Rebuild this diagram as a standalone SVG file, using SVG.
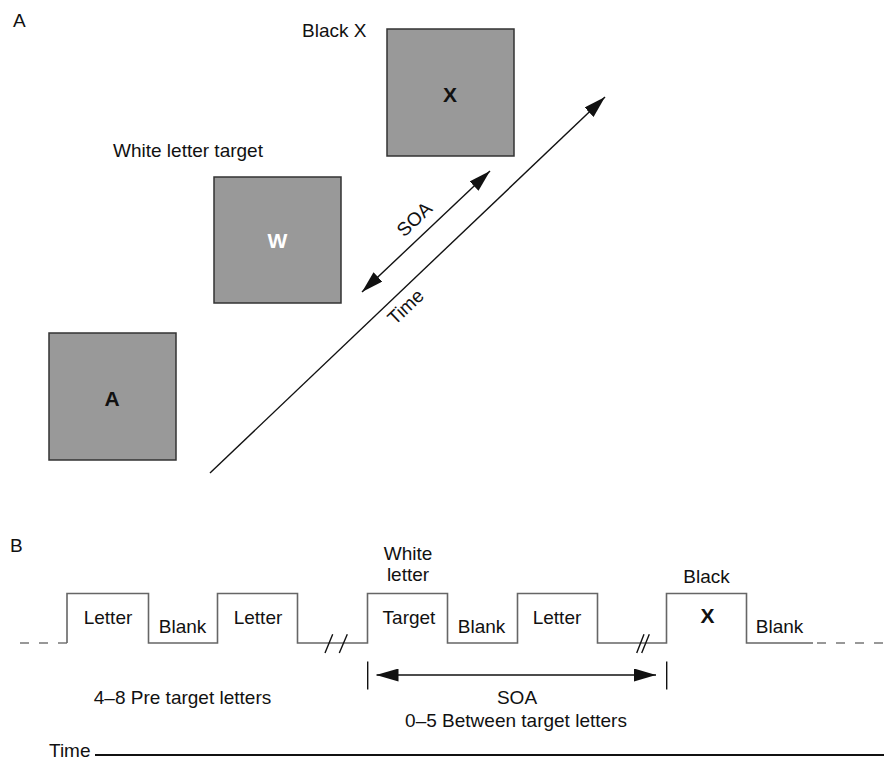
<svg xmlns="http://www.w3.org/2000/svg" width="884" height="762" viewBox="0 0 884 762">
<style>
text{font-family:"Liberation Sans",Arial,sans-serif;font-size:19px;fill:#111}
.c{text-anchor:middle}
.b{font-weight:bold;font-size:21px}
.box{fill:#999;stroke:#333;stroke-width:1.5}
.wave{fill:none;stroke:#666;stroke-width:1.6}
.dash{fill:none;stroke:#777;stroke-width:1.6;stroke-dasharray:9 10}
.ln{stroke:#111;stroke-width:1.4;fill:none}
</style>
<defs>
<marker id="ah" viewBox="0 0 22 13" refX="22" refY="6.5" markerWidth="22" markerHeight="13" markerUnits="userSpaceOnUse" orient="auto-start-reverse">
<path d="M0,0 L22,6.5 L0,13 Z" fill="#111"/>
</marker>
</defs>
<text x="13" y="27">A</text>
<text x="10" y="552">B</text>
<g id="boxA">
<rect class="box" x="49" y="333" width="127" height="127"/>
<text class="c b" x="112" y="406">A</text>
</g>
<g id="boxW">
<text x="113" y="157">White letter target</text>
<rect class="box" x="214" y="177" width="127" height="126"/>
<text class="c b" x="277.5" y="248" style="fill:#fff">W</text>
</g>
<g id="boxX">
<text x="302" y="37">Black X</text>
<rect class="box" x="387" y="29" width="127" height="127"/>
<text class="c b" x="450" y="102">X</text>
</g>
<g id="connectors">
<line class="ln" x1="210" y1="473" x2="605" y2="97" marker-end="url(#ah)"/>
<line class="ln" x1="362" y1="292" x2="490" y2="171" marker-start="url(#ah)" marker-end="url(#ah)"/>
</g>
<text class="c" transform="translate(425.8,231.2) rotate(-43.5)" y="-10">SOA</text>
<text class="c" transform="translate(395.7,296.3) rotate(-43.5)" y="21">Time</text>
<g id="timeline">
<path class="dash" d="M20,643 H67"/>
<path class="wave" d="M67,643 V593.5 H148.5 V643 H217.5 V593.5 H297.5 V643 H367.5 V593.5 H447.5 V643 H517.5 V593.5 H597.5 V643 H666.5 V593.5 H746.5 V643 H813"/>
<path class="dash" d="M817,643 H884"/>
<path class="ln" d="M325,653 L332.7,634.3 M339.3,653 L347.3,634.3 M636.7,653 L644,634.3 M641.7,653 L649.3,634.3"/>
</g>
<g id="labelsB">
<text class="c" x="108" y="624">Letter</text>
<text class="c" x="182.5" y="633">Blank</text>
<text class="c" x="258" y="624">Letter</text>
<text class="c" x="408" y="560">White</text>
<text class="c" x="408" y="581">letter</text>
<text class="c" x="409" y="624">Target</text>
<text class="c" x="481.5" y="633">Blank</text>
<text class="c" x="557" y="624">Letter</text>
<text class="c" x="706.5" y="583">Black</text>
<text class="c b" x="707.5" y="623">X</text>
<text class="c" x="779.5" y="633">Blank</text>
</g>
<g id="soaB">
<path class="ln" d="M367.7,661.5 V689.5 M666.7,661.5 V689.5"/>
<line class="ln" x1="376.5" y1="675" x2="656" y2="675" marker-start="url(#ah)" marker-end="url(#ah)"/>
<text class="c" x="517" y="704">SOA</text>
<text class="c" x="516" y="727">0–5 Between target letters</text>
<text class="c" x="182.5" y="704">4–8 Pre target letters</text>
</g>
<text x="49" y="757">Time</text>
<line x1="95" y1="755" x2="884" y2="755" stroke="#111" stroke-width="1.8"/>
</svg>
